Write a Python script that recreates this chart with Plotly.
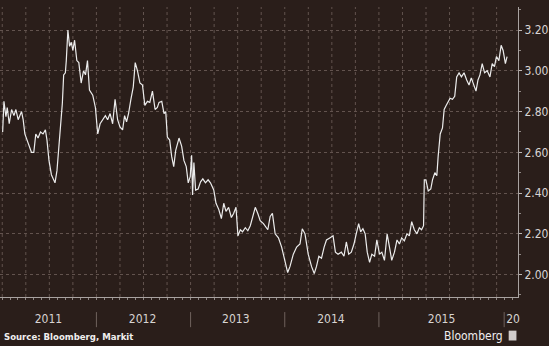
import plotly.graph_objects as go

# ---- data (decimal year, value) ----
t = [2011.004, 2011.018, 2011.039, 2011.053, 2011.074, 2011.099, 2011.124, 2011.145, 2011.169, 2011.205,
     2011.222, 2011.240, 2011.275, 2011.310, 2011.335, 2011.356, 2011.380, 2011.406, 2011.433, 2011.458,
     2011.475, 2011.496, 2011.522, 2011.539, 2011.560, 2011.581, 2011.596, 2011.617, 2011.638, 2011.652,
     2011.670, 2011.680, 2011.697, 2011.715, 2011.733, 2011.750, 2011.768, 2011.792, 2011.813, 2011.838,
     2011.863, 2011.884, 2011.905, 2011.926, 2011.961, 2011.989, 2012.014, 2012.039, 2012.067, 2012.095,
     2012.119, 2012.145, 2012.172, 2012.198, 2012.225, 2012.250, 2012.278, 2012.299, 2012.320, 2012.341,
     2012.366, 2012.391, 2012.412, 2012.436, 2012.462, 2012.489, 2012.514, 2012.542, 2012.567, 2012.595,
     2012.623, 2012.647, 2012.665, 2012.694, 2012.718, 2012.736, 2012.753, 2012.778, 2012.799, 2012.821,
     2012.842, 2012.877, 2012.905, 2012.929, 2012.954, 2012.975, 2012.996, 2013.011, 2013.021, 2013.035,
     2013.053, 2013.080, 2013.106, 2013.130, 2013.158, 2013.186, 2013.211, 2013.246, 2013.270, 2013.299,
     2013.327, 2013.352, 2013.376, 2013.404, 2013.433, 2013.457, 2013.482, 2013.503, 2013.528, 2013.552,
     2013.581, 2013.608, 2013.634, 2013.658, 2013.687, 2013.714, 2013.739, 2013.774, 2013.809, 2013.820,
     2013.845, 2013.869, 2013.898, 2013.933, 2013.967, 2014.003, 2014.031, 2014.056, 2014.091, 2014.126,
     2014.162, 2014.186, 2014.215, 2014.249, 2014.284, 2014.313, 2014.337, 2014.362, 2014.390, 2014.418,
     2014.443, 2014.478, 2014.513, 2014.538, 2014.566, 2014.601, 2014.629, 2014.654, 2014.679, 2014.707,
     2014.735, 2014.759, 2014.785, 2014.806, 2014.830, 2014.854, 2014.876, 2014.901, 2014.925, 2014.954,
     2014.978, 2015.006, 2015.031, 2015.059, 2015.087, 2015.112, 2015.136, 2015.165, 2015.192, 2015.218,
     2015.242, 2015.270, 2015.298, 2015.323, 2015.348, 2015.376, 2015.404, 2015.429, 2015.453, 2015.474,
     2015.482, 2015.499, 2015.524, 2015.551, 2015.569, 2015.594, 2015.615, 2015.629, 2015.651, 2015.675,
     2015.693, 2015.714, 2015.735, 2015.756, 2015.781, 2015.805, 2015.826, 2015.851, 2015.876, 2015.904,
     2015.932, 2015.957, 2015.981, 2016.010, 2016.031, 2016.052, 2016.073, 2016.097, 2016.122, 2016.150,
     2016.179, 2016.203, 2016.227, 2016.248, 2016.274, 2016.298, 2016.319, 2016.343, 2016.361]

values = [2.70, 2.85, 2.775, 2.82, 2.74, 2.81, 2.78, 2.81, 2.76, 2.80,
          2.76, 2.69, 2.645, 2.60, 2.60, 2.69, 2.67, 2.70, 2.69, 2.71,
          2.66, 2.56, 2.49, 2.47, 2.45, 2.51, 2.60, 2.71, 2.84, 2.98,
          2.99, 3.05, 3.20, 3.12, 3.14, 3.10, 3.15, 3.05, 3.04, 2.94,
          3.00, 2.98, 3.05, 2.905, 2.88, 2.82, 2.69, 2.74, 2.76, 2.78,
          2.76, 2.79, 2.74, 2.86, 2.76, 2.725, 2.71, 2.78, 2.75, 2.79,
          2.86, 2.92, 3.04, 3.00, 2.94, 2.93, 2.83, 2.85, 2.845, 2.90,
          2.81, 2.82, 2.845, 2.85, 2.79, 2.80, 2.675, 2.66, 2.58, 2.53,
          2.61, 2.67, 2.63, 2.56, 2.53, 2.45, 2.48, 2.585, 2.39, 2.55,
          2.415, 2.42, 2.455, 2.47, 2.45, 2.465, 2.45, 2.415, 2.35, 2.32,
          2.275, 2.35, 2.31, 2.33, 2.28, 2.30, 2.33, 2.19, 2.22, 2.21,
          2.23, 2.215, 2.24, 2.285, 2.33, 2.30, 2.265, 2.25, 2.225, 2.22,
          2.285, 2.30, 2.20, 2.18, 2.135, 2.07, 2.01, 2.04, 2.10, 2.135,
          2.15, 2.225, 2.20, 2.10, 2.04, 2.005, 2.04, 2.09, 2.08, 2.135,
          2.17, 2.18, 2.19, 2.11, 2.10, 2.11, 2.09, 2.16, 2.10, 2.11,
          2.15, 2.20, 2.25, 2.21, 2.225, 2.20, 2.11, 2.06, 2.10, 2.09,
          2.17, 2.10, 2.11, 2.07, 2.20, 2.135, 2.07, 2.11, 2.17, 2.15,
          2.18, 2.165, 2.20, 2.19, 2.26, 2.22, 2.20, 2.23, 2.22, 2.24,
          2.465, 2.465, 2.41, 2.42, 2.465, 2.50, 2.485, 2.58, 2.69, 2.72,
          2.81, 2.83, 2.85, 2.865, 2.86, 2.875, 2.97, 2.99, 2.97, 2.99,
          2.955, 2.93, 2.965, 2.93, 2.90, 2.955, 2.98, 3.035, 2.99, 3.00,
          2.97, 3.035, 3.02, 3.07, 3.05, 3.125, 3.10, 3.035, 3.07]

y_ticks = [2.0, 2.2, 2.4, 2.6, 2.8, 3.0, 3.2]
year_labels = ["2011", "2012", "2013", "2014", "2015", "20"]
year_label_pos = [2011.49, 2012.49, 2013.48, 2014.49, 2015.665, 2016.425]
year_breaks = [2012.0, 2013.0, 2014.0, 2015.0, 2016.33]

BG = "#2a1e1a"
GRID = "#62534e"
TXT = "#d8d4d2"
FONT = "Liberation Sans Narrow, DejaVu Sans Condensed, Liberation Sans, Arial"

X0, X1 = 2010.976, 2016.477

fig = go.Figure()
fig.add_trace(go.Scatter(x=t, y=values, mode="lines",
                         line=dict(color="#ececec", width=1.2),
                         hoverinfo="skip", showlegend=False))

shapes = []
# quarterly dotted vertical grid
q = 2011.0
while q < X1:
    if q > X0:
        shapes.append(dict(type="line", xref="x", yref="paper", x0=q, x1=q, y0=0, y1=1,
                           line=dict(color=GRID, width=1, dash="dot"), layer="below"))
    q += 0.25
# year separators below the axis
for b in year_breaks:
    shapes.append(dict(type="line", xref="x", yref="paper", x0=b, x1=b, y0=-0.052, y1=-0.104,
                       line=dict(color="#6f625d", width=1)))
# Bloomberg logo box
shapes.append(dict(type="rect", xref="paper", yref="paper", x0=0.982, x1=0.997, y0=-0.150, y1=-0.116,
                   fillcolor="#d0cccb", line=dict(width=0)))

fig.update_layout(
    width=549, height=346,
    margin=dict(l=0, r=28, t=7, b=49),
    paper_bgcolor=BG, plot_bgcolor=BG,
    font=dict(family=FONT, color=TXT, size=12),
    shapes=shapes,
    xaxis=dict(range=[X0, X1], tickmode="array", tickvals=year_label_pos, ticktext=year_labels,
               ticks="", ticklen=0, showgrid=False, zeroline=False,
               showline=True, linecolor="#a9a3a1", linewidth=1,
               ticklabelstandoff=11,
               tickfont=dict(family=FONT, size=12, color=TXT),
               minor=dict(tickmode="linear", tick0=2011.0, dtick=1/12, ticks="outside",
                          ticklen=2, tickcolor="#8f8784", showgrid=False)),
    yaxis=dict(range=[1.890, 3.313], side="right", tickmode="array", tickvals=y_ticks,
               tickformat=".2f", ticks="outside", ticklen=3, tickcolor="#bdb7b5",
               showgrid=True, gridcolor=GRID, griddash="dot", gridwidth=1,
               zeroline=False, showline=True, linecolor="#a9a3a1", linewidth=1,
               tickfont=dict(family=FONT, size=12, color=TXT),
               minor=dict(tickmode="linear", tick0=2.0, dtick=0.1, ticks="outside",
                          ticklen=2, tickcolor="#8f8784", showgrid=False)),
    annotations=[
        dict(text="<b>Source: Bloomberg, Markit</b>", xref="paper", yref="paper",
             x=0.004, y=-0.135, xanchor="left", yanchor="middle", showarrow=False,
             font=dict(family=FONT, size=9.5, color="#f0eeee")),
        dict(text="Bloomberg", xref="paper", yref="paper",
             x=0.975, y=-0.133, xanchor="right", yanchor="middle", showarrow=False,
             font=dict(family=FONT, size=12, color="#f0eeee")),
    ],
)

fig.write_html("out.html")
